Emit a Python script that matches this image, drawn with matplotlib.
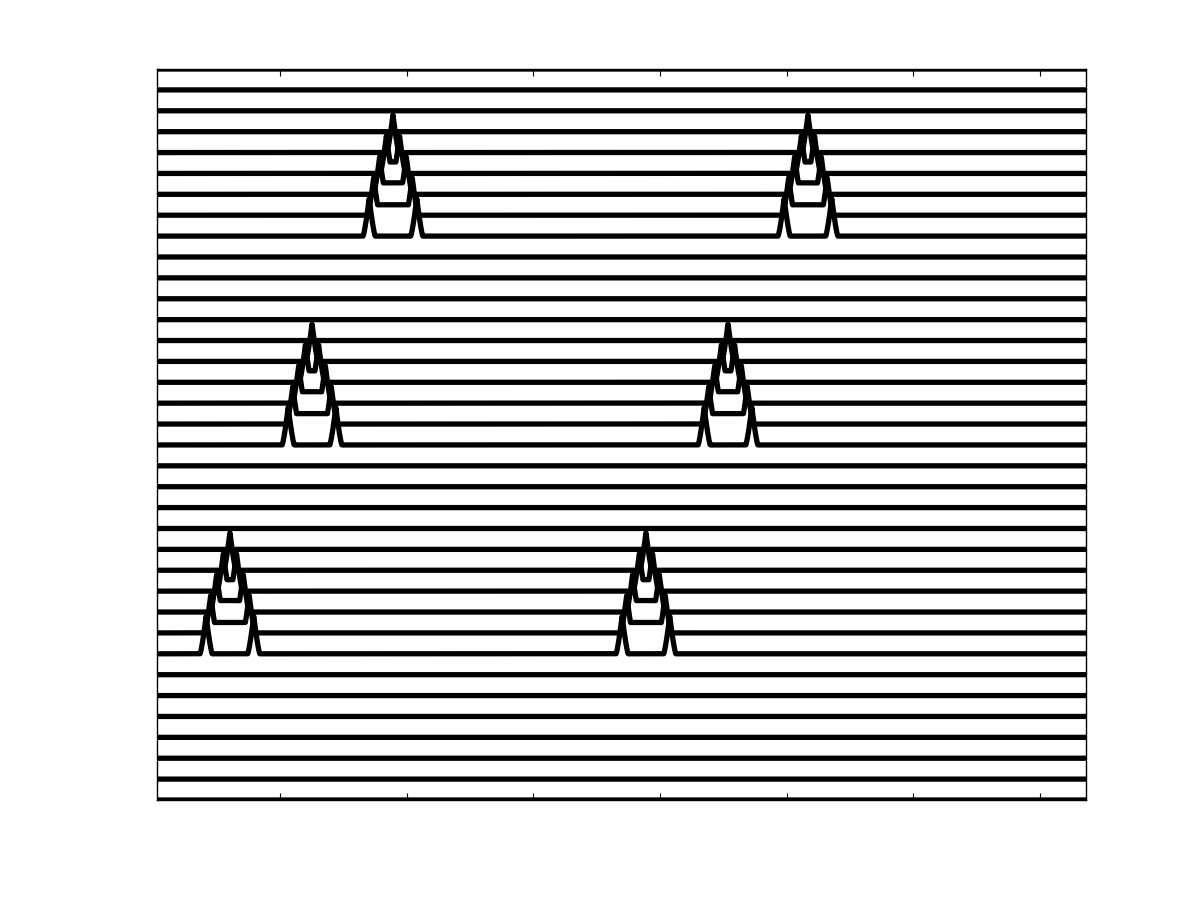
import numpy as np
import matplotlib
matplotlib.use('Agg')
import matplotlib.pyplot as plt

# stacked traces, offset by 1 each (0 .. 35 from bottom)
n_traces = 36

# bottom trace index of each band of pulses
band_start = [7, 17, 27]
# pulse centres for each band (left pulse, right pulse)
centre_left = [0.605, 1.253, 1.892]
centre_right = [3.889, 4.537, 5.168]

# within a band, going up: half separation of the two spikes, plateau between them
half_sep = [0.188, 0.152, 0.105, 0.052, 0.0]
plateau = [0.0, 0.5, 0.55, 0.55, 0.0]
peak_height = 1.8
half_base = 0.048

xticks = [1, 2, 3, 4, 5, 6, 7]


def pulse(x, c, d, p):
    t1 = np.clip(1 - np.abs(x - (c - d)) / half_base, 0, 1)
    t2 = np.clip(1 - np.abs(x - (c + d)) / half_base, 0, 1)
    spikes = peak_height * np.maximum(t1, t2) ** 1.3
    step = 1 / (1 + np.exp(-(x - (c - d)) / 0.006)) - 1 / (1 + np.exp(-(x - (c + d)) / 0.006))
    return np.maximum(spikes, p * step)


def main():
    x = np.linspace(0.029, 7.363, 12000)

    fig = plt.figure(figsize=(12, 9.01), dpi=100)
    ax = fig.add_axes([0.1308, 0.1121, 0.7742, 0.8113])

    for k in range(n_traces):
        y = np.zeros_like(x) + k
        for b in range(len(band_start)):
            j = k - band_start[b]
            if 0 <= j < len(half_sep):
                y += pulse(x, centre_left[b], half_sep[j], plateau[j])
                y += pulse(x, centre_right[b], half_sep[j], plateau[j])
        ax.plot(x, y, color='black', linewidth=3.8, solid_joinstyle='round')

    ax.set_xlim(0.029, 7.363)
    ax.set_ylim(0, 35)
    ax.set_xticks(xticks)
    ax.set_yticks([])
    ax.tick_params(axis='x', direction='in', length=5, width=0.8, top=True,
                   labelbottom=False)
    for s in ax.spines.values():
        s.set_linewidth(1)

    fig.savefig('out.png', dpi=100)


if __name__ == "__main__":
    main()
